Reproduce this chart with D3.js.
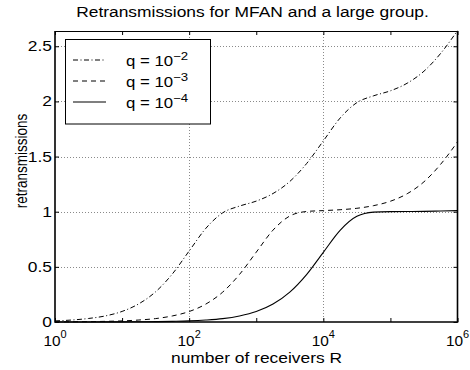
<!DOCTYPE html>
<html>
<head>
<meta charset="utf-8">
<script src="https://cdn.jsdelivr.net/npm/d3@7"></script>
<style>
  body { margin: 0; background: #fff; }
  svg { display: block; font-family: "Liberation Sans", Arial, sans-serif; }
</style>
</head>
<body>
<svg id="chart" width="470" height="370"></svg>
<script>
// number of receivers R (quarter decades)
var receivers = [1, 1.778, 3.162, 5.623, 10, 17.78, 31.62, 56.23, 100, 177.8, 316.2, 562.3,
  1000, 1778, 3162, 5623, 10000, 17780, 31620, 56230, 100000, 177800, 316200, 562300, 1000000];

// expected retransmissions
var q2_values = [0.010, 0.018, 0.032, 0.055, 0.096, 0.165, 0.274, 0.436, 0.644, 0.850, 0.990, 1.051,
  1.096, 1.165, 1.274, 1.436, 1.642, 1.849, 1.989, 2.051, 2.096, 2.165, 2.274, 2.436, 2.642];
var q3_values = [0.001, 0.002, 0.003, 0.006, 0.010, 0.018, 0.031, 0.055, 0.095, 0.163, 0.271, 0.431,
  0.633, 0.833, 0.961, 1.002, 1.010, 1.018, 1.031, 1.055, 1.095, 1.163, 1.271, 1.431, 1.633];
var q4_values = [0.000, 0.000, 0.000, 0.001, 0.001, 0.002, 0.003, 0.006, 0.010, 0.018, 0.031, 0.055,
  0.095, 0.163, 0.271, 0.430, 0.632, 0.831, 0.958, 0.996, 1.001, 1.002, 1.003, 1.006, 1.010];

var x_ticks = [1, 10, 100, 1000, 10000, 100000, 1000000];
var x_labels = [1, 100, 10000, 1000000];
var y_ticks = [0, 0.5, 1, 1.5, 2, 2.5];

var legend_names = ["-2", "-3", "-4"];

var title_text = "Retransmissions for MFAN and a large group.";
var xlabel_text = "number of receivers R";
var ylabel_text = "retransmissions";

var SX = 1.2; // the picture is a bit wider than tall
var plot_left = 55, plot_right = 457.5, plot_top = 31, plot_bottom = 322;

window.addEventListener('load', function ()
{
  draw();
})

function stretched(parent, x, y, sx)
{
  return parent.append("g").attr("transform", "translate(" + x + "," + y + ") scale(" + (sx || SX) + ",1)");
}

function draw()
{
  var svg = d3.select("#chart");

  var x = d3.scaleLog().domain([1, 1e6]).range([plot_left, plot_right]);
  var y = d3.scaleLinear().domain([0, 2.642]).range([plot_bottom, plot_top - 0.4]);

  // grid
  var grid = svg.append("g").attr("stroke", "#8a8a8a").attr("stroke-width", 1).attr("stroke-dasharray", "1,2");
  grid.selectAll(".gx").data([100, 10000]).enter().append("line")
    .attr("x1", function(d) {return Math.round(x(d)) + 0.5}).attr("x2", function(d) {return Math.round(x(d)) + 0.5})
    .attr("y1", plot_top).attr("y2", plot_bottom);
  grid.selectAll(".gy").data(y_ticks.slice(1)).enter().append("line")
    .attr("y1", function(d) {return Math.round(y(d)) + 0.5}).attr("y2", function(d) {return Math.round(y(d)) + 0.5})
    .attr("x1", plot_left).attr("x2", plot_right);

  // tick marks on all four sides, pointing in
  svg.append("g").attr("transform", "translate(0," + plot_bottom + ")")
    .call(d3.axisBottom(x).tickValues(x_ticks).tickSize(-4).tickFormat(""));
  svg.append("g").attr("transform", "translate(0," + plot_top + ")")
    .call(d3.axisTop(x).tickValues(x_ticks).tickSize(-4).tickFormat(""));
  svg.append("g").attr("transform", "translate(" + plot_left + ",0)")
    .call(d3.axisLeft(y).tickValues(y_ticks).tickSize(-4).tickFormat(""));
  svg.append("g").attr("transform", "translate(" + plot_right + ",0)")
    .call(d3.axisRight(y).tickValues(y_ticks).tickSize(-4).tickFormat(""));
  svg.selectAll(".domain").remove();
  svg.selectAll(".tick line").attr("stroke", "#000");

  // curves
  var line = d3.line().curve(d3.curveMonotoneX);
  var series = [
    {vals: q2_values, dash: "5,2.5,1,2.5", w: 1},
    {vals: q3_values, dash: "5,4", w: 1},
    {vals: q4_values, dash: null, w: 1.1}
  ];
  svg.selectAll(".curve").data(series).enter().append("path")
    .attr("fill", "none").attr("stroke", "#000")
    .attr("stroke-width", function(d) {return d.w})
    .attr("stroke-dasharray", function(d) {return d.dash})
    .attr("d", function(d) {return line(d.vals.map(function(v, i) {return [x(receivers[i]), y(v)]}))});

  // frame
  svg.append("line").attr("x1", plot_left).attr("x2", plot_right).attr("y1", plot_top + 0.5).attr("y2", plot_top + 0.5)
    .attr("stroke", "#000").attr("stroke-width", 1);
  svg.append("path").attr("d", "M" + plot_left + "," + plot_top + "V" + plot_bottom + "H" + plot_right + "V" + plot_top)
    .attr("fill", "none").attr("stroke", "#000").attr("stroke-width", 1.6);

  // y tick labels
  y_ticks.forEach(function(d)
  {
    stretched(svg, 52, y(d) + 5).append("text").attr("text-anchor", "end")
      .style("font-size", "14.5px").text(d);
  });

  // x tick labels 10^k
  x_labels.forEach(function(d)
  {
    var t = stretched(svg, x(d), 346, 1.1).append("text").attr("text-anchor", "middle").style("font-size", "14px");
    t.append("tspan").text("10");
    t.append("tspan").attr("dy", -8).style("font-size", "10px").text(Math.round(Math.log10(d)));
  });

  // title and axis labels
  stretched(svg, 252.5, 17).append("text").attr("text-anchor", "middle")
    .style("font-size", "14.5px").text(title_text);
  stretched(svg, 256.5, 363).append("text").attr("text-anchor", "middle")
    .style("font-size", "14.5px").text(xlabel_text);
  svg.append("g").attr("transform", "translate(27,161) scale(" + SX + ",1) rotate(-90)")
    .append("text").attr("text-anchor", "middle").style("font-size", "13.5px").text(ylabel_text);

  // legend
  var lg = svg.append("g");
  lg.append("rect").attr("x", 65.5).attr("y", 39.5).attr("width", 145).attr("height", 84.5)
    .attr("fill", "#fff").attr("stroke", "#000").attr("stroke-width", 1);
  series.forEach(function(s, i)
  {
    var ly = 60 + i * 21;
    lg.append("line").attr("x1", 73).attr("x2", 106).attr("y1", ly).attr("y2", ly)
      .attr("stroke", "#000").attr("stroke-width", s.w).attr("stroke-dasharray", s.dash);
    var t = stretched(lg, 126, ly + 6).append("text").style("font-size", "14px");
    t.append("tspan").text("q = 10");
    t.append("tspan").attr("dy", -6.5).style("font-size", "11px").text(legend_names[i].replace("-", "\u2212"));
  });
}
</script>
</body>
</html>
